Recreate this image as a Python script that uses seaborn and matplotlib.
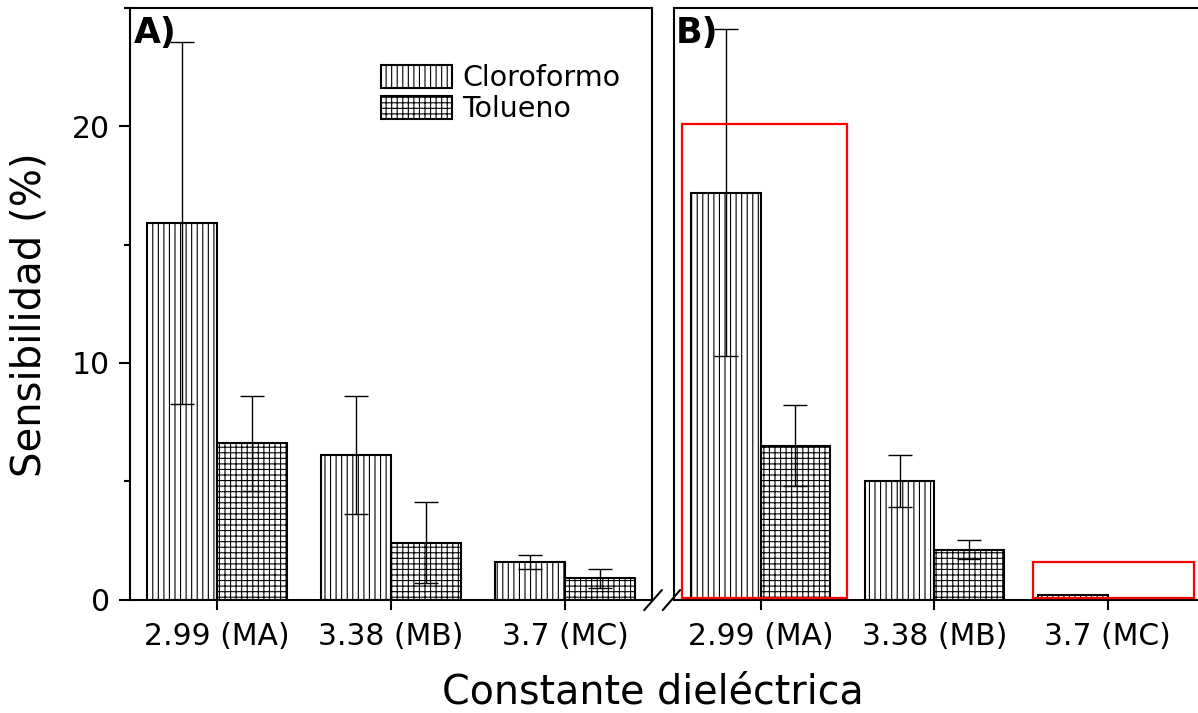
import pandas as pd
import seaborn as sns
import matplotlib.pyplot as plt
from matplotlib.patches import Rectangle

# data
categories = ['2.99 (MA)', '3.38 (MB)', '3.7 (MC)']
solvents = ['Cloroformo', 'Tolueno']

a_cloro = [15.9, 6.1, 1.6]
a_cloro_err = [7.65, 2.5, 0.3]
a_tol = [6.6, 2.4, 0.9]
a_tol_err = [2.0, 1.7, 0.4]

b_cloro = [17.2, 5.0, 0.2]
b_cloro_err = [6.9, 1.1, 0.0]
b_tol = [6.5, 2.1, 0.0]
b_tol_err = [1.7, 0.4, 0.0]

# red highlight boxes on panel B (x0, width, height)
box_x0 = [-0.455, 1.568]
box_w = [0.955, 0.93]
box_h = [20.1, 1.6]

hatches = ['|||', '+++']

sns.set_style('ticks')
plt.rcParams['font.family'] = ['DejaVu Sans']
plt.rcParams['hatch.linewidth'] = 0.8
plt.rcParams['axes.linewidth'] = 1.5
for k in ['text.color', 'axes.labelcolor', 'xtick.color', 'ytick.color',
          'axes.edgecolor', 'hatch.color']:
    plt.rcParams[k] = 'black'

W, H = 1198, 713
fig = plt.figure(figsize=(W / 100, H / 100), dpi=100)
bottom = 1 - 599.5 / H
height = 591.5 / H
axA = fig.add_axes([130 / W, bottom, 522 / W, height])
axB = fig.add_axes([674 / W, bottom, 536 / W, height])


def panel(ax, cloro, tol, cloro_err, tol_err):
    df = pd.DataFrame({
        'cat': categories * 2,
        'val': cloro + tol,
        'solv': [solvents[0]] * 3 + [solvents[1]] * 3,
    })
    sns.barplot(data=df, x='cat', y='val', hue='solv', palette=['white', 'white'],
                edgecolor='black', linewidth=1.5, saturation=1, width=0.8,
                legend=False, ax=ax)
    bars = list(ax.containers)
    for cont, hatch, err in zip(bars, hatches, [cloro_err, tol_err]):
        for p in cont:
            p.set_hatch(hatch)
        xs = [p.get_x() + p.get_width() / 2 for p in cont]
        ys = [p.get_height() for p in cont]
        keep = [i for i, e in enumerate(err) if e > 0]
        ax.errorbar([xs[i] for i in keep], [ys[i] for i in keep],
                    yerr=[err[i] for i in keep], fmt='none', ecolor='black',
                    elinewidth=1, capsize=8.5, capthick=1, zorder=4)
    ax.set_ylim(0, 25)
    ax.set_xlabel('')
    ax.set_ylabel('')
    ax.tick_params(axis='x', direction='out', length=7.5, width=1.5,
                   labelsize=21.5, pad=8.5)
    for s in ax.spines.values():
        s.set_visible(True)
        s.set_linewidth(1.5)
        s.set_color('black')
    return bars


barsA = panel(axA, a_cloro, a_tol, a_cloro_err, a_tol_err)
panel(axB, b_cloro, b_tol, b_cloro_err, b_tol_err)

axA.set_xlim(-0.5, 2.5)
axB.set_xlim(-0.5, 2.59)

axA.set_yticks([0, 10, 20])
axA.set_yticks([5, 15, 25], minor=True)
axA.tick_params(axis='y', which='major', direction='out', length=8, width=1.5,
                labelsize=21.5, pad=6.5)
axA.tick_params(axis='y', which='minor', direction='out', length=4, width=1.5)
axB.set_yticks([])
axB.tick_params(axis='y', which='both', left=False, labelleft=False)

# panel labels
axA.text(0.008, 0.986, 'A)', transform=axA.transAxes, ha='left', va='top',
         fontsize=25, fontweight='bold')
axB.text(0.004, 0.986, 'B)', transform=axB.transAxes, ha='left', va='top',
         fontsize=25, fontweight='bold')

# legend
axA.legend(barsA, solvents, loc='upper left', bbox_to_anchor=(0.481, 0.9045),
           frameon=False, fontsize=20.5, handlelength=2.49, handleheight=0.84,
           handletextpad=0.35, labelspacing=0.1, borderpad=0, borderaxespad=0)

# highlight boxes
for x0, w, h in zip(box_x0, box_w, box_h):
    axB.add_patch(Rectangle((x0, 0.05), w, h - 0.05, fill=False, edgecolor='red',
                            linewidth=1.6, zorder=6, clip_on=False))

# axis break marks
axA.plot([0.985, 1.019], [-0.018, 0.016], transform=axA.transAxes,
         color='black', lw=1.5, clip_on=False)
axB.plot([-0.021, 0.0115], [-0.018, 0.016], transform=axB.transAxes,
         color='black', lw=1.5, clip_on=False)

fig.text(652.5 / W, 1 - 703 / H, 'Constante dieléctrica', ha='center',
         va='baseline', fontsize=28.5)
fig.text(30 / W, 1 - 315 / H, 'Sensibilidad (%)', ha='center', va='center',
         rotation=90, fontsize=29)

fig.savefig('out.png', dpi=100)
